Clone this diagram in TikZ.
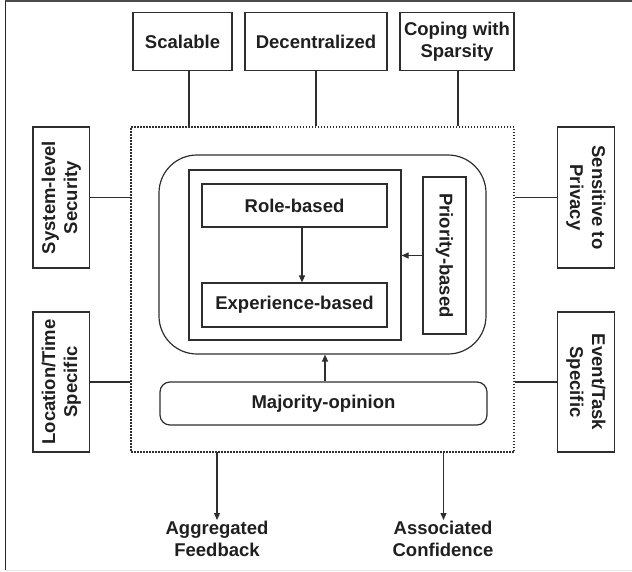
\documentclass[tikz,border=0pt]{standalone}
\usepackage{fontspec}
\setmainfont{Liberation Sans}
\usetikzlibrary{arrows.meta,calc}
\definecolor{ln}{HTML}{2E2E2E}
\begin{document}
\begin{tikzpicture}[x=1pt,y=-1pt,
  every node/.style={font=\fontsize{18.5}{22}\selectfont\bfseries, text=black!88, inner sep=0pt, align=center},
  box/.style={draw=ln, line width=1.2pt, minimum width=#1},
  conn/.style={draw=ln, line width=1.2pt},
  arr/.style={draw=ln, line width=1.2pt, -{Triangle[width=6pt,length=7pt]}}
]
\useasboundingbox (0,0) rectangle (632,571);
% outer frame
\draw[line width=2pt, draw=black!70] (5,1) -- (632,1);
\draw[line width=1.8pt, draw=black!85] (5.5,1) -- (5.5,570);
\draw[line width=1pt, draw=black!10] (5,570) -- (632,570);

% top boxes
\node[box=99pt, minimum height=58pt] (scal) at (182.5,41.7) {Scalable};
\node[box=142pt, minimum height=58pt] (dec) at (316,41.7) {Decentralized};
\node[box=114pt, minimum height=58pt] (cop) at (457,41.7) {Coping with\\Sparsity};

% dotted box
\node[draw=ln, line width=1.7pt, dash pattern=on 1.5pt off 1.5pt, minimum width=383pt, minimum height=325pt] (dot) at (322.5,289.5) {};

% side boxes
\node[box=141pt, minimum height=56.5pt, rotate=90] (sls) at (61.3,197.5) {System-level\\Security};
\node[box=140pt, minimum height=56.5pt, rotate=90] (lts) at (61.3,382) {Location/Time\\Specific};
\node[box=141pt, minimum height=56.5pt, rotate=-90] (stp) at (586,197.5) {Sensitive to\\Privacy};
\node[box=140pt, minimum height=56.5pt, rotate=-90] (ets) at (586,382) {Event/Task\\Specific};

% inner structure
\node[draw=ln, line width=1.2pt, rounded corners=38pt, minimum width=327pt, minimum height=199pt] (rnd) at (322.5,254.5) {};
\node[box=212pt, minimum height=170pt] (inner) at (295,255) {};
\node[box=185pt, minimum height=43pt] (role) at (294.5,205.5) {Role-based};
\node[box=185pt, minimum height=44pt] (exp) at (294.5,305) {Experience-based};
\node[box=157pt, minimum height=43pt, rotate=-90] (prio) at (444.5,255.5) {Priority-based};
\node[draw=ln, line width=1.2pt, rounded corners=10pt, minimum width=327pt, minimum height=43pt] (maj) at (323.5,403.5) {Majority-opinion};

% outputs
\node (agg) at (217,539) {Aggregated\\Feedback};
\node (asc) at (443,539) {Associated\\Confidence};

% connectors top
\draw[conn] ([xshift=6.5pt]scal.south) -- ([xshift=6.5pt]scal.south |- dot.north);
\draw[conn] (dec.south) -- (dec.south |- dot.north);
\draw[conn] ([xshift=1pt]cop.south) -- ([xshift=1pt]cop.south |- dot.north);
% side connectors
\draw[conn] (sls.south) -- (sls.south -| dot.west);
\draw[conn] (lts.south) -- (lts.south -| dot.west);
\draw[conn] (stp.south) -- (stp.south -| dot.east);
\draw[conn] (ets.south) -- (ets.south -| dot.east);

% arrows
\draw[arr] ([xshift=7.5pt]role.south) -- ([xshift=7.5pt]role.south |- exp.north);
\draw[arr] (prio.south) -- (prio.south -| inner.east);
\draw[arr] ([xshift=1.5pt]maj.north) -- ([xshift=1.5pt]maj.north |- rnd.south);
\coordinate (d1) at (217,452);
\coordinate (d2) at (443.5,452);
\draw[arr] (d1) -- ($(agg.north)+(0,-1)$);
\draw[arr] (d2) -- ($(asc.north)+(0.5,-1)$);
\end{tikzpicture}
\end{document}
